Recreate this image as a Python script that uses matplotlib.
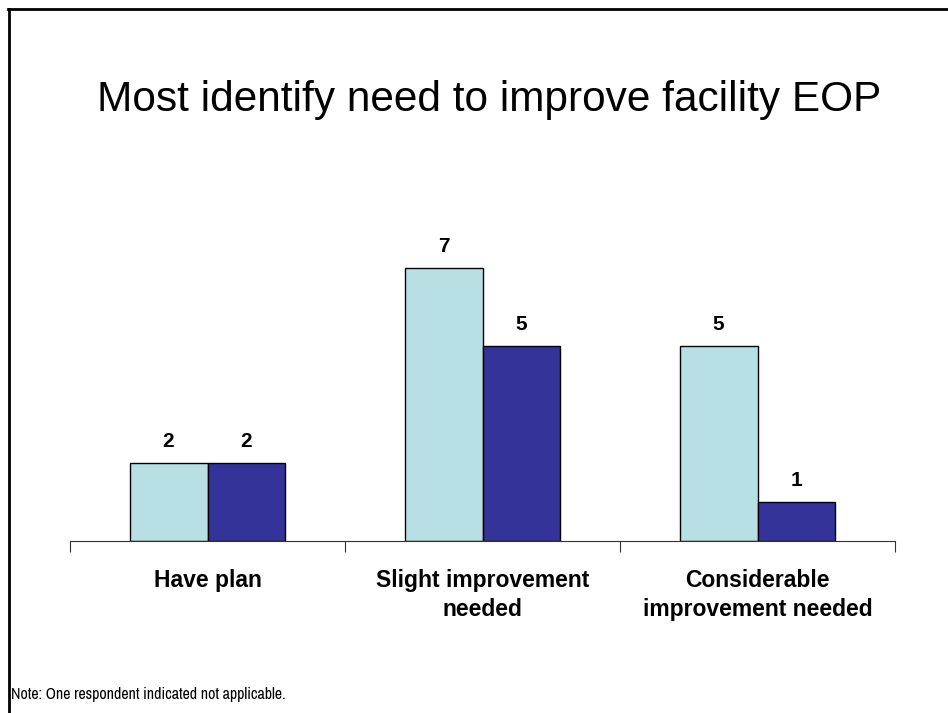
import numpy as np
import matplotlib.pyplot as plt
import matplotlib as mpl
from matplotlib.lines import Line2D
from matplotlib import font_manager as fm

mpl.rcParams['font.family'] = ['Liberation Sans', 'DejaVu Sans']

# data
categories = ['Have plan', 'Slight improvement\nneeded', 'Considerable\nimprovement needed']
series_a = [2, 7, 5]
series_b = [2, 5, 1]
title = 'Most identify need to improve facility EOP'
note = 'Note: One respondent indicated not applicable.'

# narrow font for the note, if one is around
installed = {f.name for f in fm.fontManager.ttflist}
narrow = [n for n in ['Liberation Sans Narrow', 'Arimo Narrow', 'Archivo Narrow',
                      'PT Sans Narrow', 'Roboto Condensed', 'Open Sans Condensed']
          if n in installed]
note_family = narrow[:1] + ['Liberation Sans', 'DejaVu Sans']

fig = plt.figure(figsize=(9.48, 7.13), dpi=100)
ax = fig.add_axes([70/948, 1 - 541/713, 825/948, 312/713])

x = np.arange(len(categories))
w = 0.2836
ax.bar(x - w/2, series_a, w, color='#B8DFE3', edgecolor='black', linewidth=1.0)
ax.bar(x + w/2, series_b, w, color='#333399', edgecolor='black', linewidth=1.0)

for xi, v in zip(x - w/2, series_a):
    ax.text(xi, v + 0.32, str(v), ha='center', va='bottom', fontsize=15, fontweight='bold')
for xi, v in zip(x + w/2, series_b):
    ax.text(xi, v + 0.32, str(v), ha='center', va='bottom', fontsize=15, fontweight='bold')

ax.set_xlim(-0.5, len(categories) - 0.5)
ax.set_ylim(0, 8)
for s in ['top', 'right', 'left']:
    ax.spines[s].set_visible(False)
ax.spines['bottom'].set_color('#333333')
ax.set_yticks([])
ax.set_xticks(np.arange(len(categories) + 1) - 0.5, minor=False)
ax.set_xticklabels([])
ax.tick_params(axis='x', length=8, color='#333333', direction='out')
ax.set_xticks(x, minor=True)
ax.set_xticklabels(categories, minor=True, fontsize=16.5, fontweight='bold', linespacing=1.36)
ax.tick_params(axis='x', which='minor', length=0, pad=20)

fig.text(489/948, 1 - 100/713, title, ha='center', va='center', fontsize=30.5)
fig.text(11/948, 1 - 695/713, note, ha='left', va='center', fontsize=11.5,
         family=note_family)

# frame of the slide (top and left only)
fig.add_artist(Line2D([8/948, 1], [1 - 9/713, 1 - 9/713], color='black', linewidth=2, transform=fig.transFigure))
fig.add_artist(Line2D([9/948, 9/948], [0, 1 - 9/713], color='black', linewidth=2, transform=fig.transFigure))

fig.savefig('out.png', dpi=100)
